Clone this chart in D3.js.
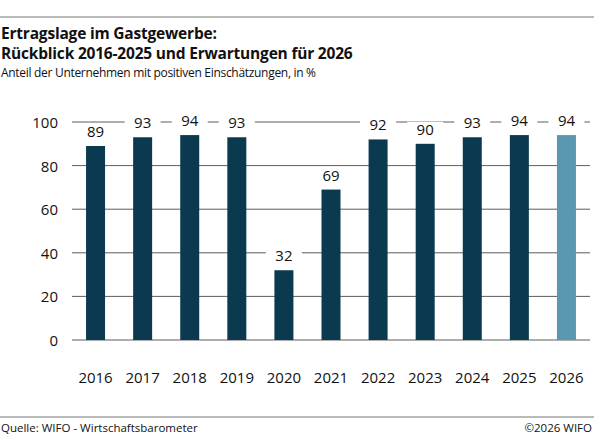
<!DOCTYPE html>
<html><head><meta charset="utf-8">
<script src="https://cdn.jsdelivr.net/npm/d3@7"></script>
<style>body{margin:0;background:#fff}text{font-family:"Open Sans",Lato,sans-serif}</style>
</head><body><svg id="c" width="594" height="438"></svg>
<script>
var years = ["2016","2017","2018","2019","2020","2021","2022","2023","2024","2025","2026"];
var values = [89, 93, 94, 93, 32, 69, 92, 90, 93, 94, 94];
var yTicks = [0, 20, 40, 60, 80, 100];

var svg = d3.select("#c");
var plotLeft = 72, plotRight = 590, plotTop = 122, plotBottom = 340;

// header lines
svg.append("line").attr("x1", 0).attr("x2", 594).attr("y1", 17).attr("y2", 17).attr("stroke", "#777");
svg.append("text").attr("x", 1).attr("y", 39).attr("font-size", 15.5).attr("font-weight", "bold").attr("fill", "#111").attr("letter-spacing", -0.2).text("Ertragslage im Gastgewerbe:");
svg.append("text").attr("x", 1).attr("y", 59).attr("font-size", 15.5).attr("font-weight", "bold").attr("fill", "#111").attr("letter-spacing", -0.2).text("Rückblick 2016-2025 und Erwartungen für 2026");
svg.append("text").attr("x", 1).attr("y", 77).attr("font-size", 12).attr("fill", "#111").attr("letter-spacing", -0.3).text("Anteil der Unternehmen mit positiven Einschätzungen, in %");

var x = d3.scaleBand().domain(years).range([plotLeft, plotRight]).paddingInner(0.6).paddingOuter(0.3);
var y = d3.scaleLinear().domain([0, 100]).range([plotBottom, plotTop]);

// gridlines
svg.append("g").selectAll("line").data(yTicks).join("line")
  .attr("x1", plotLeft).attr("x2", plotRight)
  .attr("y1", d => y(d)).attr("y2", d => y(d))
  .attr("stroke", "#333").attr("stroke-width", 0.8);
svg.append("g").selectAll("text").data(yTicks).join("text")
  .attr("x", 58).attr("y", d => y(d) + 6).attr("text-anchor", "end")
  .attr("font-size", 15).attr("fill", "#111").text(d => d);

// bars
svg.append("g").selectAll("rect").data(values).join("rect")
  .attr("x", (d, i) => x(years[i]) + x.bandwidth() / 2 - 9.5)
  .attr("width", 19)
  .attr("y", d => y(d)).attr("height", d => y(0) - y(d))
  .attr("fill", (d, i) => i == years.length - 1 ? "#5a98b2" : "#0b3a50");

// value labels with white background
var lab = svg.append("g").selectAll("g").data(values).join("g")
  .attr("transform", (d, i) => "translate(" + (x(years[i]) + x.bandwidth() / 2) + "," + (y(d) - 9) + ")");
lab.append("rect").attr("x", -18).attr("y", -13).attr("width", 36).attr("height", 18).attr("fill", "#fff");
lab.append("text").attr("text-anchor", "middle").attr("font-size", 15).attr("fill", "#111").text(d => d);

// x labels
svg.append("g").selectAll("text").data(years).join("text")
  .attr("x", d => x(d) + x.bandwidth() / 2).attr("y", 383).attr("text-anchor", "middle")
  .attr("font-size", 15).attr("fill", "#111").text(d => d);

// footer
svg.append("line").attr("x1", 0).attr("x2", 594).attr("y1", 417).attr("y2", 417).attr("stroke", "#777");
svg.append("text").attr("x", 1).attr("y", 432).attr("font-size", 11.5).attr("fill", "#111").text("Quelle: WIFO - Wirtschaftsbarometer");
svg.append("text").attr("x", 592).attr("y", 432).attr("text-anchor", "end").attr("font-size", 11.5).attr("fill", "#111").text("©2026 WIFO");
</script></body></html>
